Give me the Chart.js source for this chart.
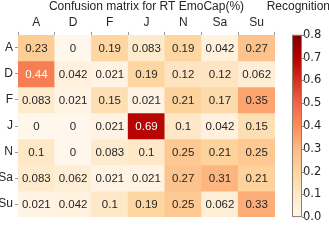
<!DOCTYPE html>
<html>
<head>
<meta charset="utf-8">
<script src="https://cdn.jsdelivr.net/npm/chart.js@4.4.1/dist/chart.umd.min.js"></script>
<style>
  html, body { margin: 0; padding: 0; background: #fff; }
  #wrap { width: 329px; height: 252px; }
</style>
</head>
<body>
<div id="wrap"><canvas id="chart" width="329" height="252"></canvas></div>
<script>
// labels (predicted = columns, true = rows)
const colLabels = ['A', 'D', 'F', 'J', 'N', 'Sa', 'Su'];
const rowLabels = ['A', 'D', 'F', 'J', 'N', 'Sa', 'Su'];

// recognition rates per row
const rowA  = [0.23, 0, 0.19, 0.083, 0.19, 0.042, 0.27];
const rowD  = [0.44, 0.042, 0.021, 0.19, 0.12, 0.12, 0.062];
const rowF  = [0.083, 0.021, 0.15, 0.021, 0.21, 0.17, 0.35];
const rowJ  = [0, 0, 0.021, 0.69, 0.1, 0.042, 0.15];
const rowN  = [0.1, 0, 0.083, 0.1, 0.25, 0.21, 0.25];
const rowSa = [0.083, 0.062, 0.021, 0.021, 0.27, 0.31, 0.21];
const rowSu = [0.021, 0.042, 0.1, 0.19, 0.25, 0.062, 0.33];
const matrix = [rowA, rowD, rowF, rowJ, rowN, rowSa, rowSu];

const cbTicks = [0, 0.1, 0.2, 0.3, 0.4, 0.5, 0.6, 0.7, 0.8];
const vmin = 0, vmax = 0.8;

const titleText = 'Confusion matrix for RT EmoCap(%)';
const cbTitle = 'Recognition';

// OrRd colormap
const orrd = ['#fff7ec', '#fee8c8', '#fdd49e', '#fdbb84', '#fc8d59', '#ef6548', '#d7301f', '#b30000', '#7f0000'];

function hexToRgb(h) {
    return [parseInt(h.substr(1, 2), 16), parseInt(h.substr(3, 2), 16), parseInt(h.substr(5, 2), 16)];
}

function cmap(v) {
    let t = (v - vmin) / (vmax - vmin);
    t = Math.max(0, Math.min(1, t));
    const p = t * (orrd.length - 1);
    const i = Math.min(Math.floor(p), orrd.length - 2);
    const f = p - i;
    const a = hexToRgb(orrd[i]), b = hexToRgb(orrd[i + 1]);
    const c = a.map((x, k) => Math.round(x + (b[k] - x) * f));
    return 'rgb(' + c.join(',') + ')';
}

function fmt(v) {
    return v === 0 ? '0' : String(v);
}

const datasets = matrix.map((row, r) => ({
    label: rowLabels[r],
    data: row.map(() => [r - 0.5, r + 0.5]),
    values: row,
    backgroundColor: row.map(v => cmap(v)),
    borderWidth: 0,
    grouped: false,
    barPercentage: 1,
    categoryPercentage: 1
}));

const cellText = {
    id: 'cellText',
    afterDatasetsDraw(chart) {
        const ctx = chart.ctx;
        ctx.save();
        ctx.font = '11.5px "Liberation Sans", Arial, sans-serif';
        ctx.textAlign = 'center';
        ctx.textBaseline = 'middle';
        chart.data.datasets.forEach((ds, di) => {
            const meta = chart.getDatasetMeta(di);
            meta.data.forEach((el, i) => {
                const v = ds.values[i];
                ctx.fillStyle = v > 0.4 ? '#ffffff' : '#262626';
                ctx.fillText(fmt(v), el.x, (el.y + el.base) / 2 + 0.5);
            });
        });
        ctx.restore();
    }
};

const colorBar = {
    id: 'colorBar',
    afterDraw(chart) {
        const ctx = chart.ctx;
        const s = chart.scales.cb;
        const x0 = s.left + 17, w = 10;
        const top = s.getPixelForValue(vmax), bot = s.getPixelForValue(vmin);
        const g = ctx.createLinearGradient(0, bot, 0, top);
        orrd.forEach((c, i) => g.addColorStop(i / (orrd.length - 1), c));
        ctx.save();
        ctx.fillStyle = g;
        ctx.fillRect(x0, top, w, bot - top);
        ctx.strokeStyle = '#8a7d76';
        ctx.lineWidth = 1;
        ctx.strokeRect(x0 + 0.5, top + 0.5, w - 1, bot - top - 1);
        ctx.beginPath();
        cbTicks.forEach(t => {
            const y = Math.round(s.getPixelForValue(t)) + 0.5;
            ctx.moveTo(x0 + w, y);
            ctx.lineTo(x0 + w + 3, y);
        });
        ctx.stroke();
        // titles
        ctx.fillStyle = '#262626';
        ctx.font = '12px "Liberation Sans", Arial, sans-serif';
        ctx.textBaseline = 'middle';
        ctx.textAlign = 'center';
        const ca = chart.chartArea;
        ctx.fillText(titleText, (ca.left + ca.right) / 2, 7);
        ctx.textAlign = 'right';
        ctx.fillText(cbTitle, 330, 7);
        ctx.restore();
    }
};

new Chart(document.getElementById('chart'), {
    type: 'bar',
    data: { labels: colLabels, datasets: datasets },
    options: {
        responsive: false,
        animation: false,
        layout: { padding: { top: 14, bottom: 7, left: 0, right: 0 } },
        plugins: {
            legend: { display: false },
            tooltip: { enabled: false },
            title: { display: false }
        },
        scales: {
            x: {
                position: 'top',
                offset: true,
                grid: { drawOnChartArea: false, tickLength: 3, color: '#999' },
                border: { display: false },
                ticks: { color: '#262626', padding: 2, font: { size: 12, family: '"Liberation Sans", Arial, sans-serif' } },
                afterFit: s => { s.height = 18; }
            },
            y: {
                type: 'linear',
                reverse: true,
                min: -0.5,
                max: 6.5,
                grid: { drawOnChartArea: false, tickLength: 3, color: '#999' },
                border: { display: false },
                afterBuildTicks: s => { s.ticks = rowLabels.map((_, i) => ({ value: i })); },
                ticks: {
                    color: '#262626', padding: 2,
                    font: { size: 12, family: '"Liberation Sans", Arial, sans-serif' },
                    callback: v => rowLabels[v]
                },
                afterFit: s => { s.width = 18; }
            },
            cb: {
                type: 'linear',
                position: 'right',
                min: vmin,
                max: vmax,
                grid: { display: false, drawTicks: false },
                border: { display: false },
                afterBuildTicks: s => { s.ticks = cbTicks.map(v => ({ value: v })); },
                ticks: {
                    color: '#262626', padding: 28,
                    font: { size: 11.5, family: '"DejaVu Sans", sans-serif' },
                    callback: v => v.toFixed(1)
                },
                afterFit: s => { s.width = 54; }
            }
        }
    },
    plugins: [cellText, colorBar]
});
</script>
</body>
</html>
